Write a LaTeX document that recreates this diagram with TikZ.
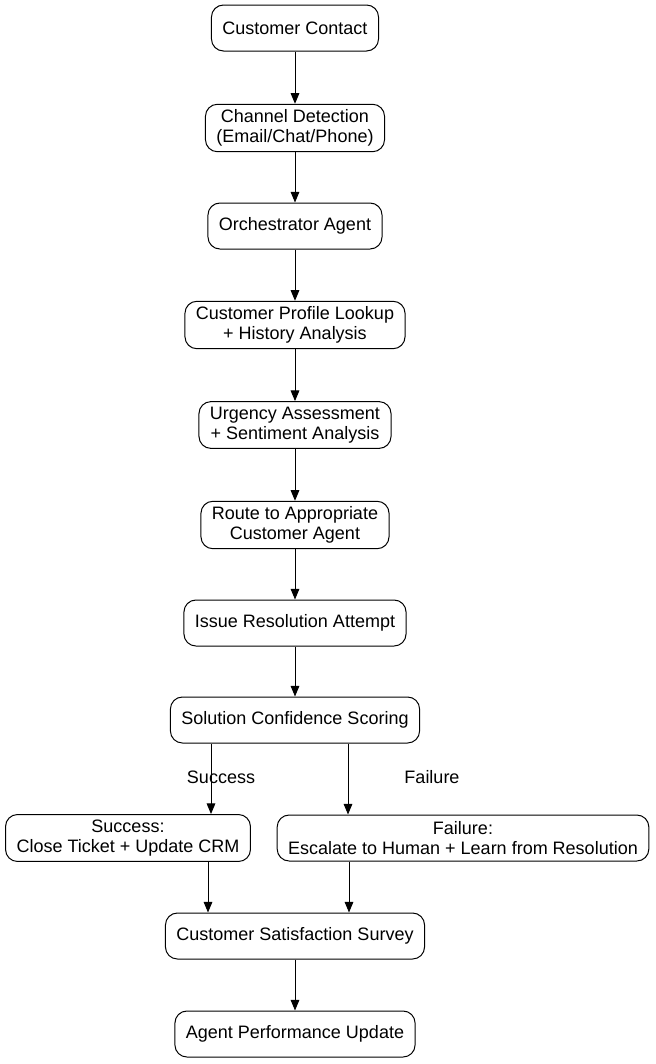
\documentclass[tikz,border=0pt]{standalone}
\usepackage{fontspec}
\setmainfont{Liberation Sans}
\usetikzlibrary{arrows.meta}
\newcommand{\stage}[4]{\node[stage] (#1) at (#2,#3) {#4};}
\tikzset{
  stage/.style={draw, line width=0.75pt, rounded corners=9pt, align=center,
    inner xsep=8.25pt, inner ysep=4pt, minimum height=34.5pt,
    font=\fontsize{13.5}{15}\selectfont},
  flow/.style={draw, line width=0.75pt, -{Triangle[length=8pt,width=6.5pt]}},
  branch/.style={font=\fontsize{13.5}{15}\selectfont}
}
\begin{document}
\begin{tikzpicture}[x=0.75pt,y=-0.75pt]
\useasboundingbox (0,0) rectangle (656,1064);
\stage{contact}{295}{28}{Customer Contact}
\stage{channel}{295}{128}{Channel Detection\\(Email/Chat/Phone)}
\stage{orch}{295}{226}{Orchestrator Agent}
\stage{profile}{295}{325}{Customer Profile Lookup\\+ History Analysis}
\stage{urgency}{295}{425}{Urgency Assessment\\+ Sentiment Analysis}
\stage{route}{295}{525}{Route to Appropriate\\Customer Agent}
\stage{issue}{295}{623}{Issue Resolution Attempt}
\stage{score}{295}{720}{Solution Confidence Scoring}
\stage{succ}{128}{838}{Success:\\Close Ticket + Update CRM}
\stage{fail}{463}{838}{Failure:\\Escalate to Human + Learn from Resolution}
\stage{survey}{295}{936}{Customer Satisfaction Survey}
\stage{perf}{295}{1034}{Agent Performance Update}
% main chain
\foreach \a/\b in {contact/channel,channel/orch,orch/profile,profile/urgency,urgency/route,route/issue,issue/score,survey/perf}
  \draw[flow] (\a) -- (\b);
% branches
\draw[flow] ([xshift=-63pt]score.south) -- ([xshift=-63pt]score.south |- succ.north);
\draw[flow] ([xshift=39.75pt]score.south) -- ([xshift=39.75pt]score.south |- fail.north);
\node[branch] (lsucc) at (221,777) {Success};
\node[branch] (lfail) at (432,777) {Failure};
% merge
\draw[flow] ([xshift=-65.25pt]survey.north |- succ.south) -- ([xshift=-65.25pt]survey.north);
\draw[flow] ([xshift=40.5pt]survey.north |- fail.south) -- ([xshift=40.5pt]survey.north);
\end{tikzpicture}
\end{document}
